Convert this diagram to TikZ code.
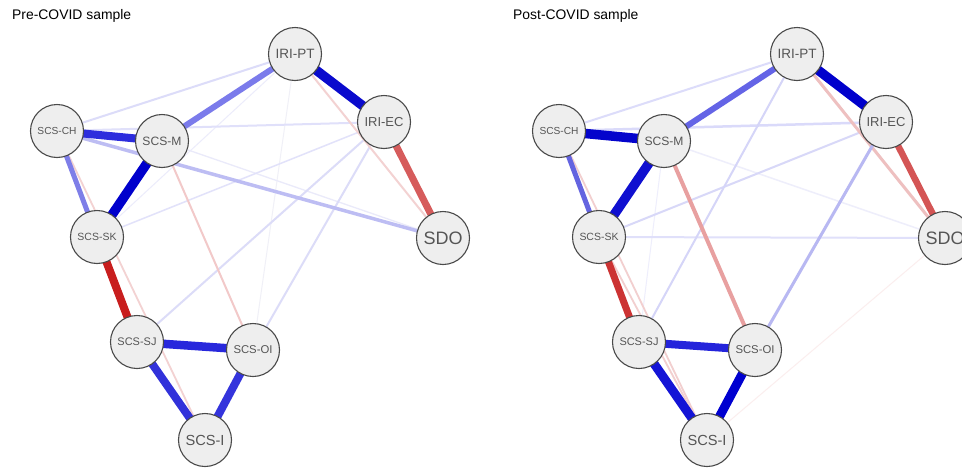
\documentclass[tikz,border=0pt]{standalone}
\usepackage{fontspec}
\setmainfont{Liberation Sans}
\usepackage{graphicx}
\pgfdeclarelayer{background}
\pgfsetlayers{background,main}
\definecolor{nodefill}{HTML}{EEEEEE}
\definecolor{nodeline}{HTML}{4A4A4A}
\definecolor{labelgray}{HTML}{555555}
\tikzset{
  var/.style={circle, draw=nodeline, fill=nodefill, line width=1.1pt,
    minimum size=53pt, inner sep=0pt, text=labelgray},
  paneltitle/.style={anchor=base west, inner sep=0pt,
    font=\fontsize{13.9}{16}\selectfont},
}
% labels are scaled to a common width, as in qgraph
\newcommand\vlabel[1]{\resizebox{39pt}{!}{#1}}
% edge between two named nodes: colour (hex) and width (pt)
\newcommand\edge[4]{\definecolor{edgetmp}{HTML}{#3}%
  \draw[line width=#4pt, edgetmp, line cap=round] (#1.center) -- (#2.center);}
% the nine variables of one network, names prefixed with #1
\newcommand\netnodes[1]{%
  \node[var] (#1PT)  at (295,54)  {\vlabel{IRI-PT}};
  \node[var] (#1EC)  at (384,122) {\vlabel{IRI-EC}};
  \node[var] (#1SDO) at (443,238) {\vlabel{SDO}};
  \node[var] (#1CH)  at (57,131)  {\vlabel{SCS-CH}};
  \node[var] (#1M)   at (162,141) {\vlabel{SCS-M}};
  \node[var] (#1SK)  at (97,237)  {\vlabel{SCS-SK}};
  \node[var] (#1SJ)  at (137,342) {\vlabel{SCS-SJ}};
  \node[var] (#1OI)  at (253,350) {\vlabel{SCS-OI}};
  \node[var] (#1I)   at (205,440) {\vlabel{SCS-I}};
}
\begin{document}
\begin{tikzpicture}[x=1pt, y=-1pt]
\clip (0,0) rectangle (962,469);
\begin{pgfonlayer}{background}
\fill[white] (0,0) rectangle (962,469);
\end{pgfonlayer}

% ---------- Pre-COVID network ----------
\node[paneltitle] (pretitle) at (12,19.5) {Pre-COVID sample};
\netnodes{a}
\begin{pgfonlayer}{background}
\edge{aPT}{aOI}{F0F0F7}{1}
\edge{aPT}{aSK}{ECECFB}{1}
\edge{aM}{aSDO}{EAEAFA}{1.3}
\edge{aEC}{aSK}{E2E2FA}{1.5}
\edge{aCH}{aEC}{E0E0FA}{2}
\edge{aPT}{aCH}{DCDCF9}{2}
\edge{aEC}{aSJ}{DCDCF8}{2}
\edge{aEC}{aOI}{DCDCF8}{2}
\edge{aPT}{aSDO}{F3D2D2}{2}
\edge{aCH}{aI}{F3D2D2}{1.8}
\edge{aM}{aOI}{F2C9C9}{2}
\edge{aCH}{aSDO}{BDBDF3}{3.5}
\edge{aCH}{aSK}{7E7EE8}{5}
\edge{aPT}{aM}{7B7BEB}{6}
\edge{aEC}{aSDO}{D65C5C}{7}
\edge{aSJ}{aI}{3232DA}{8}
\edge{aOI}{aI}{3434DC}{8}
\edge{aSK}{aSJ}{C81E1E}{8}
\edge{aCH}{aM}{2D2DDD}{8}
\edge{aSJ}{aOI}{2828DC}{8.5}
\edge{aM}{aSK}{0000CC}{9.5}
\edge{aPT}{aEC}{0A0ACD}{9.5}
\end{pgfonlayer}

% ---------- Post-COVID network ----------
\node[paneltitle] (posttitle) at (513,19.5) {Post-COVID sample};
\begin{scope}[xshift=502pt]
\netnodes{b}
\end{scope}
\begin{pgfonlayer}{background}
\edge{bI}{bSDO}{FBEEEE}{1}
\edge{bM}{bSJ}{EEEEFC}{1}
\edge{bM}{bSDO}{EEEEFB}{1.5}
\edge{bSK}{bSDO}{E0E0FA}{2}
\edge{bEC}{bSK}{D8D8F8}{2}
\edge{bPT}{bCH}{DCDCFA}{2}
\edge{bCH}{bEC}{DADAFA}{2.5}
\edge{bPT}{bSJ}{D5D5F8}{2}
\edge{bCH}{bI}{F2CFCF}{1.8}
\edge{bSK}{bI}{F2CFCF}{1.8}
\edge{bPT}{bSDO}{EEC0C0}{3}
\edge{bEC}{bOI}{B8B8F2}{3}
\edge{bM}{bOI}{E8A0A0}{4}
\edge{bCH}{bSK}{6464E0}{5}
\edge{bPT}{bM}{6464E6}{6}
\edge{bEC}{bSDO}{D45555}{6.5}
\edge{bSK}{bSJ}{CC3333}{7}
\edge{bSJ}{bOI}{2424DB}{8}
\edge{bSJ}{bI}{1414D6}{9}
\edge{bOI}{bI}{0000D0}{9}
\edge{bM}{bSK}{1010D0}{9.5}
\edge{bCH}{bM}{0404CC}{9.5}
\edge{bPT}{bEC}{0000CC}{9.5}
\end{pgfonlayer}
\end{tikzpicture}
\end{document}
